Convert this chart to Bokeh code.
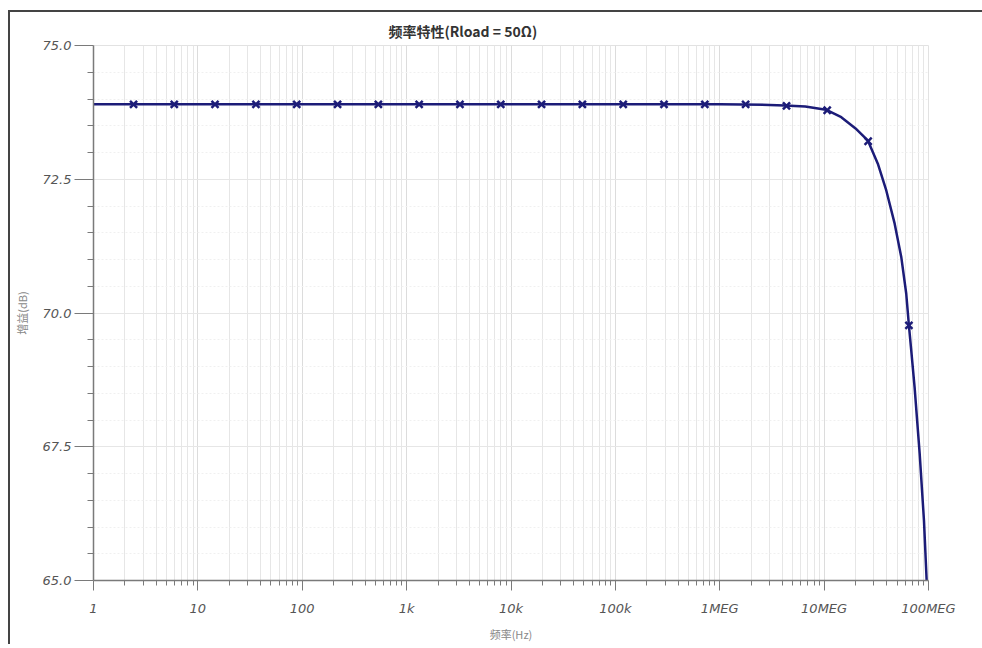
from bokeh.plotting import figure
from bokeh.models import FixedTicker, Range1d, Title
from bokeh.embed import file_html
from bokeh.resources import INLINE

# ---- data ----
curve_freq = [1, 1e6, 3.0e6, 4.2e6, 6.6e6, 1.04e7, 1.46e7, 2.0e7, 2.63e7, 3.27e7,
              3.94e7, 4.74e7, 5.49e7, 6.12e7, 6.49e7, 6.84e7, 7.36e7, 8.23e7, 9.05e7, 9.6e7]
curve_gain = [73.9, 73.9, 73.89, 73.88, 73.86, 73.80, 73.66, 73.45, 73.22, 72.79,
              72.29, 71.67, 71.04, 70.36, 69.77, 69.29, 68.61, 67.37, 66.12, 65.0]

marker_freq = [2.42, 5.94, 14.6, 36.0, 88.5, 218, 536, 1318, 3243, 7980,
               19630, 48300, 118850, 292400, 719500, 1.77e6, 4.36e6, 1.07e7,
               2.64e7, 6.49e7]
marker_gain = [73.9, 73.9, 73.9, 73.9, 73.9, 73.9, 73.9, 73.9, 73.9, 73.9,
               73.9, 73.9, 73.9, 73.9, 73.9, 73.9, 73.87, 73.79, 73.21, 69.77]

x_ticks = [1, 10, 100, 1e3, 1e4, 1e5, 1e6, 1e7, 1e8]
x_tick_labels = ["1", "10", "100", "1k", "10k", "100k", "1MEG", "10MEG", "100MEG"]
y_ticks = [65.0, 67.5, 70.0, 72.5, 75.0]
y_tick_labels = ["65.0", "67.5", "70.0", "72.5", "75.0"]

title_text = "频率特性(Rload = 50Ω)"
x_label = "频率(Hz)"
y_label = "增益(dB)"

LINE = "#1c1c78"
AXIS = "#7a7a7a"
TXT = "#555555"

p = figure(
    x_axis_type="log",
    x_range=Range1d(1, 1e8),
    y_range=Range1d(65, 75),
    frame_width=835, frame_height=535,
    min_border_left=80, min_border_right=55,
    min_border_top=33, min_border_bottom=64,
    output_backend="svg", toolbar_location=None,
    background_fill_color="white", border_fill_color="white",
    outline_line_color="#e2e2e2",
)
p.styles = {"border-top": "2px solid #444444", "border-left": "2px solid #444444",
            "margin-top": "10px", "margin-left": "8px"}

p.title = Title(text=title_text, align="left", offset=295,
                text_font="Noto Sans CJK SC", text_font_size="14px",
                text_font_style="bold", text_color="#333333", standoff=10)

minor_x = [m * d for d in [1, 10, 100, 1e3, 1e4, 1e5, 1e6, 1e7] for m in range(2, 10)]
minor_y = [65 + 0.5 * i for i in range(21) if (i % 5) != 0]

p.xaxis.ticker = FixedTicker(ticks=x_ticks, minor_ticks=minor_x)
p.yaxis.ticker = FixedTicker(ticks=y_ticks, minor_ticks=minor_y)
p.xaxis.major_label_overrides = {t: l for t, l in zip(x_ticks, x_tick_labels)}
p.yaxis.major_label_overrides = {t: l for t, l in zip(y_ticks, y_tick_labels)}

for ax in (p.xaxis[0], p.yaxis[0]):
    ax.axis_line_color = AXIS
    ax.axis_line_width = 1.5
    ax.major_tick_line_color = AXIS
    ax.minor_tick_line_color = AXIS
    ax.major_tick_in = 0
    ax.minor_tick_in = 0
    ax.major_label_text_font = "DejaVu Sans"
    ax.major_label_text_font_style = "italic"
    ax.major_label_text_font_size = "13px"
    ax.major_label_text_color = TXT
    ax.axis_label_text_font = "Noto Sans CJK SC"
    ax.axis_label_text_font_style = "normal"
    ax.axis_label_text_font_size = "11px"
    ax.axis_label_text_color = "#888888"

p.xaxis.major_tick_out = 10
p.xaxis.minor_tick_out = 5
p.xaxis.major_label_standoff = 10
p.xaxis.axis_label = x_label
p.xaxis.axis_label_standoff = 7

p.yaxis.major_tick_out = 19
p.yaxis.minor_tick_out = 6
p.yaxis.major_label_standoff = 3
p.yaxis.axis_label = y_label
p.yaxis.axis_label_standoff = 10

p.xgrid.grid_line_color = "#dcdcdc"
p.xgrid.minor_grid_line_color = "#e6e6e6"
p.ygrid.grid_line_color = "#e6e6e6"
p.ygrid.minor_grid_line_color = "#f0f0f0"
p.ygrid.minor_grid_line_dash = "2 2"

p.line(curve_freq, curve_gain, line_color=LINE, line_width=2.5)
p.scatter(marker_freq, marker_gain, marker="x", size=10, line_width=2.5,
          line_color=LINE)

open("out.html", "w").write(file_html(p, INLINE))
